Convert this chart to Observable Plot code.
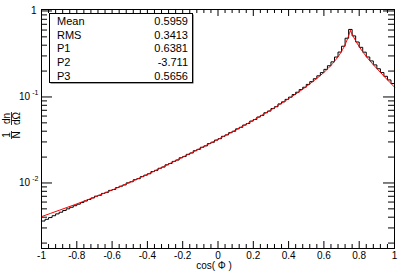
<!DOCTYPE html>
<html>
<head>
<meta charset="utf-8">
<script src="https://cdn.jsdelivr.net/npm/d3@7"></script>
<script src="https://cdn.jsdelivr.net/npm/@observablehq/plot@0.6"></script>
<style>
  html, body { margin: 0; padding: 0; background: white; }
  svg { display: block; }
</style>
</head>
<body>
<div id="chart"></div>
<script>
// ---- data ----
// histogram: 100 bins of width 0.02 from -1 to 1 (1/N dn/dΩ)
const histValues = [
  0.00361, 0.00378, 0.00396, 0.00416, 0.00437, 0.00457, 0.00478, 0.00500, 0.00522, 0.00544,
  0.00567, 0.00592, 0.00617, 0.00642, 0.00669, 0.00702, 0.00719, 0.00756, 0.00778, 0.00820,
  0.00839, 0.00885, 0.00917, 0.00949, 0.01003, 0.01033, 0.01091, 0.01123, 0.01186, 0.01232,
  0.01279, 0.01356, 0.01403, 0.01482, 0.01532, 0.01626, 0.01685, 0.01782, 0.01847, 0.01963,
  0.02034, 0.02152, 0.02231, 0.02372, 0.02459, 0.02602, 0.02698, 0.02871, 0.02977, 0.03152,
  0.03272, 0.03486, 0.03622, 0.03842, 0.03992, 0.04259, 0.04436, 0.04715, 0.04911, 0.05245,
  0.05473, 0.05843, 0.06109, 0.06553, 0.06852, 0.07328, 0.07709, 0.08299, 0.0877, 0.09376,
  0.09954, 0.1067, 0.1135, 0.1219, 0.1297, 0.1400, 0.1507, 0.1629, 0.1762, 0.1919,
  0.2094, 0.2307, 0.2559, 0.2911, 0.3327, 0.389, 0.482, 0.610, 0.513, 0.4355,
  0.3776, 0.3319, 0.2917, 0.2624, 0.2360, 0.2128, 0.1923, 0.1738, 0.1578, 0.1432
];
const histLo = -1, histBin = 0.02;

// fit curve (red)
const fitCos = [-1, -0.9, -0.8, -0.7, -0.6, -0.5, -0.4, -0.3, -0.2, -0.1, 0, 0.1, 0.2, 0.3, 0.4, 0.5, 0.55, 0.6, 0.65, 0.7, 0.725, 0.75,
                0.775, 0.8, 0.85, 0.9, 0.95, 1];
const fitVal = [0.00406, 0.00481, 0.00571, 0.00684, 0.00828, 0.01016, 0.01259, 0.01578, 0.01995, 0.02529, 0.03214, 0.0412, 0.0535, 0.0708, 0.0955, 0.1318, 0.1585, 0.1928, 0.2455, 0.339, 0.427, 0.590,
                0.468, 0.385, 0.279, 0.214, 0.166, 0.1303];
const fitPeakIndex = 21;

// stats box
const statNames = ["Mean", "RMS", "P1", "P2", "P3"];
const statValues = ["0.5959", "0.3413", "0.6381", "-3.711", "0.5656"];

// axes
const xMajor = [-1, -0.8, -0.6, -0.4, -0.2, 0, 0.2, 0.4, 0.6, 0.8, 1];
const xMajorLabels = ["-1", "-0.8", "-0.6", "-0.4", "-0.2", "0", "0.2", "0.4", "0.6", "0.8", "1"];
const xMinor = [-0.96,-0.92,-0.88,-0.84,-0.76,-0.72,-0.68,-0.64,-0.56,-0.52,-0.48,-0.44,-0.36,-0.32,-0.28,-0.24,
                -0.16,-0.12,-0.08,-0.04,0.04,0.08,0.12,0.16,0.24,0.28,0.32,0.36,0.44,0.48,0.52,0.56,
                0.64,0.68,0.72,0.76,0.84,0.88,0.92,0.96];
const yExpTicks = [0.01, 0.1];
const yExpBase = ["10", "10"];
const yExpPow = ["-2", "-1"];
const yUnitTick = [1];
const yMinor = [0.002,0.003,0.004,0.005,0.006,0.007,0.008,0.009,
                0.02,0.03,0.04,0.05,0.06,0.07,0.08,0.09,
                0.2,0.3,0.4,0.5,0.6,0.7,0.8,0.9];
const xTitle = "cos( Φ )";

// ---- build tables ----
const hist = histValues.map((v, i) => ({x: histLo + i * histBin, y: v}));
hist.push({x: histLo + histValues.length * histBin, y: histValues[histValues.length - 1]});
const fit = [];
fitCos.forEach((c, i) => {
  if (i <= fitPeakIndex) fit.push({x: c, y: fitVal[i], side: "L"});
  if (i >= fitPeakIndex) fit.push({x: c, y: fitVal[i], side: "R"});
});

const W = 407, H = 276, mL = 41, mR = 13, mT = 9, mB = 28;
const iw = W - mL - mR, ih = H - mT - mB;
const font = "'Liberation Sans', Arial, Helvetica, sans-serif";

const chart = Plot.plot({
  width: W, height: H,
  marginLeft: mL, marginRight: mR, marginTop: mT, marginBottom: mB,
  x: {domain: [-1, 1], axis: null},
  y: {type: "log", domain: [0.00173, 1.04], axis: null},
  style: {fontFamily: font, background: "white", color: "black"},
  marks: [
    // bottom ticks
    Plot.tickX(xMinor, {x: d => d, insetTop: ih - 4, stroke: "black"}),
    Plot.tickX(xMajor, {x: d => d, insetTop: ih - 7, stroke: "black"}),
    // top ticks
    Plot.tickX(xMinor, {x: d => d, insetBottom: ih - 4, stroke: "black"}),
    Plot.tickX(xMajor, {x: d => d, insetBottom: ih - 7, stroke: "black"}),
    // left ticks
    Plot.tickY(yMinor, {y: d => d, insetRight: iw - 6, stroke: "black"}),
    Plot.tickY(yExpTicks.concat(yUnitTick), {y: d => d, insetRight: iw - 11, stroke: "black"}),
    // right ticks
    Plot.tickY(yMinor, {y: d => d, insetLeft: iw - 6, stroke: "black"}),
    Plot.tickY(yExpTicks.concat(yUnitTick), {y: d => d, insetLeft: iw - 11, stroke: "black"}),
    // data
    Plot.line(hist, {x: "x", y: "y", curve: "step-after", stroke: "black", strokeWidth: 1}),
    Plot.line(fit, {x: "x", y: "y", z: "side", curve: "monotone-x", stroke: "#ff0000", strokeWidth: 1}),
    Plot.frame({stroke: "black"}),
    // x tick labels
    Plot.text(xMajor, {x: d => d, text: (d, i) => xMajorLabels[i], frameAnchor: "bottom", lineAnchor: "middle", dy: 7, fontSize: 10, fill: "black"}),
    // y tick labels
    Plot.text(yExpTicks, {y: d => d, text: (d, i) => yExpBase[i], frameAnchor: "left", textAnchor: "end", dx: -11.5, fontSize: 10, fill: "black"}),
    Plot.text(yExpTicks, {y: d => d, text: (d, i) => yExpPow[i], frameAnchor: "left", textAnchor: "end", dx: -3, dy: -4, fontSize: 7, fill: "black"}),
    Plot.text(yUnitTick, {y: d => d, text: d => String(d), frameAnchor: "left", textAnchor: "end", dx: -5, fontSize: 10, fill: "black"}),
    // x title
    Plot.text([xTitle], {text: d => d, frameAnchor: "bottom", lineAnchor: "middle", dy: 17, dx: -4, fontSize: 10, fill: "black"})
  ]
});

document.getElementById("chart").appendChild(chart);

// ---- y title (stacked fractions, rotated) and stats box ----
const svg = d3.select(chart);
const yt = svg.append("g").attr("font-family", font).attr("font-size", 10).attr("fill", "black");
function rotText(txt, x, y) {
  yt.append("text").attr("transform", `translate(${x},${y}) rotate(-90)`).attr("text-anchor", "middle").text(txt);
}
rotText("1", 10, 135);
rotText("N", 19.5, 135);
rotText("dn", 10, 118.5);
rotText("dΩ", 19.5, 118.5);
yt.append("line").attr("x1", 11.5).attr("x2", 11.5).attr("y1", 131).attr("y2", 139).attr("stroke", "black").attr("stroke-width", 0.8);
yt.append("line").attr("x1", 11.5).attr("x2", 11.5).attr("y1", 112).attr("y2", 125).attr("stroke", "black").attr("stroke-width", 0.8);

const box = svg.append("g").attr("font-family", font).attr("font-size", 11).attr("fill", "black");
box.append("rect").attr("x", 50.5).attr("y", 14.5).attr("width", 143).attr("height", 69).attr("fill", "#444");
box.append("rect").attr("x", 49.5).attr("y", 13.5).attr("width", 143).attr("height", 69).attr("fill", "white").attr("stroke", "black");
statNames.forEach((n, i) => {
  const cy = 21 + i * 13.7;
  box.append("text").attr("x", 57).attr("y", cy).attr("dy", "0.36em").attr("text-anchor", "start").text(n);
  box.append("text").attr("x", 188).attr("y", cy).attr("dy", "0.36em").attr("text-anchor", "end").text(statValues[i]);
});
</script>
</body>
</html>
